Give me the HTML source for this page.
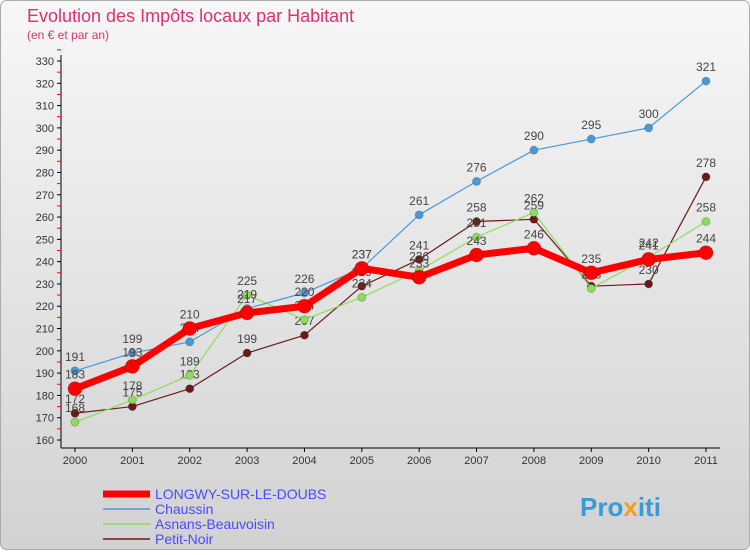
<!DOCTYPE html>
<html><head><meta charset="utf-8"><style>
body{margin:0;width:750px;height:550px;overflow:hidden;font-family:"Liberation Sans",sans-serif}
</style></head><body>
<svg id="c" width="750" height="550" xmlns="http://www.w3.org/2000/svg">
<defs><linearGradient id="bg" x1="0" y1="0" x2="0" y2="1"><stop offset="0" stop-color="#f7f7f7"/><stop offset="1" stop-color="#d2d2d2"/></linearGradient></defs>
<rect x="0.5" y="0.5" width="749" height="549" rx="6" fill="url(#bg)" stroke="#aaa"/>
<text x="27" y="22" font-size="18" fill="#e0306a">Evolution des Impôts locaux par Habitant</text>
<text x="27" y="39" font-size="12" fill="#e0306a">(en € et par an)</text>
<g id="axes"></g><g id="series"></g>
<g font-size="14" fill="#4a4aff">
<line x1="103" y1="494" x2="150" y2="494" stroke="#f00" stroke-width="7"/>
<text x="155" y="499">LONGWY-SUR-LE-DOUBS</text>
<line x1="103" y1="509" x2="150" y2="509" stroke="#4a98d8" stroke-width="1.5"/>
<text x="155" y="514">Chaussin</text>
<line x1="103" y1="524" x2="150" y2="524" stroke="#8fdc5a" stroke-width="1.5"/>
<text x="155" y="529">Asnans-Beauvoisin</text>
<line x1="103" y1="539" x2="150" y2="539" stroke="#6b1a1a" stroke-width="1.5"/>
<text x="155" y="544">Petit-Noir</text>
</g>
<text x="580" y="516" font-size="26" font-weight="bold" fill="#3a9ad8">Pro<tspan fill="#f0a020">x</tspan>iti</text>
</svg>
<script>
const years=[2000,2001,2002,2003,2004,2005,2006,2007,2008,2009,2010,2011];
const yTicks=[160,170,180,190,200,210,220,230,240,250,260,270,280,290,300,310,320,330];
const longwy=[183,193,210,217,220,237,233,243,246,235,241,244];
const chaussin=[191,199,204,219,226,237,261,276,290,295,300,321];
const asnans=[168,178,189,225,214,224,236,251,262,228,242,258];
const petitNoir=[172,175,183,199,207,229,241,258,259,229,230,278];
const NS="http://www.w3.org/2000/svg";
const X=i=>75+i*(706-75)/11;
const Y=v=>440-(v-160)*(440-61)/170;
function mk(t,a,p){const e=document.createElementNS(NS,t);for(const k in a)e.setAttribute(k,a[k]);p.appendChild(e);return e;}
const ax=document.getElementById('axes');
const yl=mk('line',{x1:61,y1:55,x2:61,y2:448,stroke:'#000'},ax);


const xl=mk('line',{x1:61,y1:448,x2:720,y2:448,stroke:'#000'},ax);


yTicks.forEach(v=>{
 mk('line',{x1:57,y1:Y(v),x2:61,y2:Y(v),stroke:'#000'},ax);
 mk('line',{x1:57,y1:Y(v+5),x2:61,y2:Y(v+5),stroke:'#f00'},ax);
 const t=mk('text',{x:54,y:Y(v)+4,'text-anchor':'end','font-size':11,fill:'#333'},ax);
 t.textContent=v;
 
 
});
years.forEach((yr,i)=>{
 mk('line',{x1:X(i),y1:448,x2:X(i),y2:452,stroke:'#000'},ax);
 const t=mk('text',{x:X(i),y:464,'text-anchor':'middle','font-size':11,fill:'#333'},ax);
 t.textContent=yr;
 
 
});
const sg=document.getElementById('series');
function draw(vals,color,w,r,name){
 const g=mk('g',{},sg);
 
 
 const pl=mk('polyline',{points:vals.map((v,i)=>X(i)+','+Y(v)).join(' '),fill:'none',stroke:color,'stroke-width':w,'stroke-linejoin':'round'},g);
 
 
 vals.forEach((v,i)=>{
  const c=mk('circle',{cx:X(i),cy:Y(v),r:r,fill:color,stroke:'rgba(0,0,0,0.2)'},g);
  
  
  const t=mk('text',{x:X(i),y:Y(v)-10,'text-anchor':'middle','font-size':12,fill:'#444'},g);
  t.textContent=v;
  
  
 });
}
draw(petitNoir,'#6b1a1a',1.2,4,'petit-noir');
draw(asnans,'#8fdc5a',1.2,4,'asnans');
draw(chaussin,'#4a98d8',1.2,4,'chaussin');
draw(longwy,'#f00',7,7,'longwy');
</script>
</body></html>
